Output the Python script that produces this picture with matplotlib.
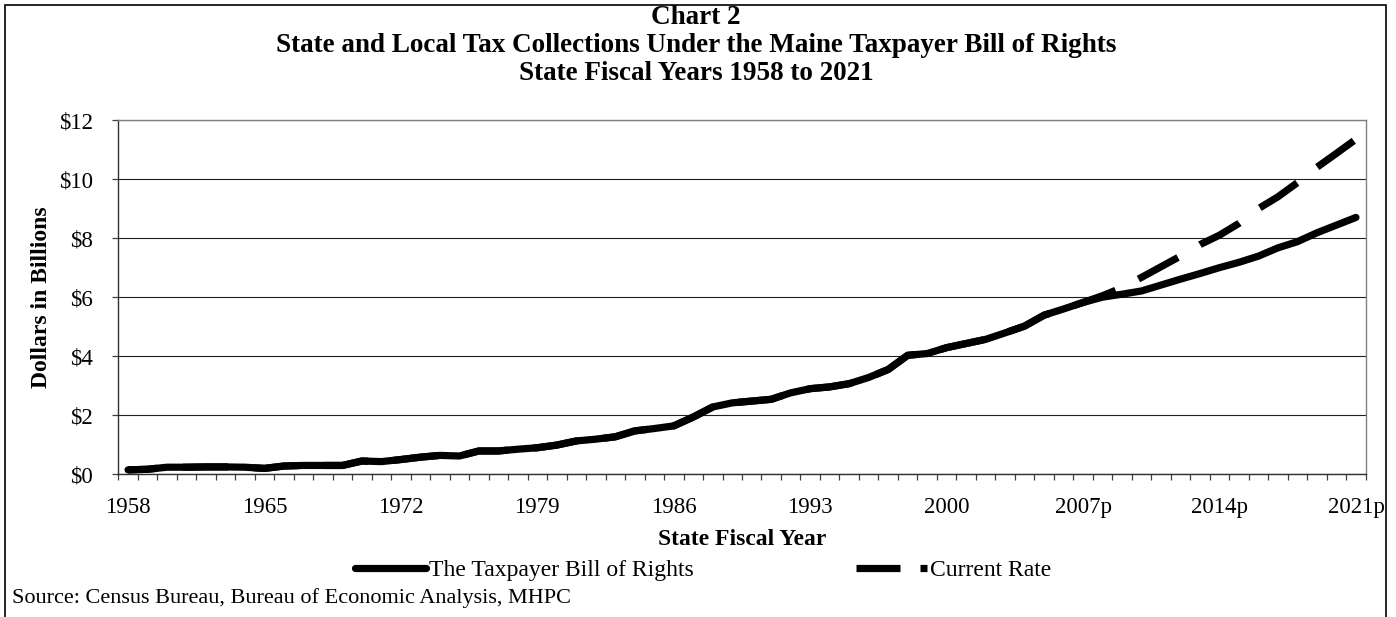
import matplotlib
matplotlib.use('Agg')
import matplotlib.pyplot as plt
import numpy as np
from matplotlib.ticker import FixedLocator, FuncFormatter
from matplotlib.lines import Line2D
from matplotlib.patches import Rectangle

# ---------------- data ----------------
years = list(range(1958, 2022))
tabor = [0.15, 0.17, 0.24, 0.24, 0.25, 0.25, 0.24, 0.20, 0.28, 0.30,
         0.30, 0.30, 0.45, 0.43, 0.50, 0.58, 0.64, 0.62, 0.79, 0.79,
         0.85, 0.90, 0.99, 1.13, 1.19, 1.27, 1.47, 1.55, 1.64, 1.94,
         2.28, 2.42, 2.48, 2.54, 2.76, 2.90, 2.96, 3.07, 3.28, 3.55,
         4.03, 4.09, 4.29, 4.43, 4.57, 4.79, 5.02, 5.39, 5.60, 5.82,
         6.00, 6.10, 6.21, 6.41, 6.61, 6.80, 7.00, 7.18, 7.39, 7.67,
         7.88, 8.18, 8.44, 8.70]
current = [0.15, 0.17, 0.24, 0.24, 0.25, 0.25, 0.24, 0.20, 0.28, 0.30,
           0.30, 0.30, 0.45, 0.43, 0.50, 0.58, 0.64, 0.62, 0.79, 0.79,
           0.85, 0.90, 0.99, 1.13, 1.19, 1.27, 1.47, 1.55, 1.64, 1.94,
           2.28, 2.42, 2.48, 2.54, 2.76, 2.90, 2.96, 3.07, 3.28, 3.55,
           4.03, 4.09, 4.29, 4.43, 4.57, 4.79, 5.02, 5.39, 5.60, 5.82,
           6.05, 6.32, 6.67, 7.03, 7.39, 7.78, 8.10, 8.50, 9.00, 9.40,
           9.88, 10.40, 10.87, 11.35]
series_names = ['The Taxpayer Bill of Rights', 'Current Rate']
x_label_years = ['1958', '1965', '1972', '1979', '1986', '1993', '2000',
                 '2007p', '2014p', '2021p']
y_ticks = [0, 2, 4, 6, 8, 10, 12]
title_lines = ['Chart 2',
               'State and Local Tax Collections Under the Maine Taxpayer Bill of Rights',
               'State Fiscal Years 1958 to 2021']
source_text = 'Source: Census Bureau, Bureau of Economic Analysis, MHPC'

# ---------------- style ----------------
plt.rcParams['font.family'] = ['Liberation Serif', 'DejaVu Serif']
plt.rcParams['lines.scale_dashes'] = False

W, H = 1396, 617
fig = plt.figure(figsize=(W / 100, H / 100), dpi=100)

ax_l, ax_r, ax_t, ax_b = 118.3, 1365.7, 120.0, 474.3
ax = fig.add_axes([ax_l / W, 1 - ax_b / H, (ax_r - ax_l) / W, (ax_b - ax_t) / H])

x = np.arange(len(years))
LW = 5.2
PX = 0.72                     # points per pixel at 100 dpi
ON, OFF = 45 * PX, 25.5 * PX  # dash pattern in points

ax.set_xlim(-0.5, len(years) - 0.5)
ax.set_ylim(0, 12)

# align the dash phase so that a dash starts where the series diverge
pts = ax.transData.transform(np.column_stack([x, current]))
seg = np.hypot(np.diff(pts[:, 0]), np.diff(pts[:, 1]))
cum = np.concatenate([[0], np.cumsum(seg)])
div_x = 48.5
k = int(div_x)
frac = div_x - k
L_start = (cum[k] + frac * seg[k]) * PX
offset = (-L_start) % (ON + OFF)

ax.plot(x, tabor, color='black', lw=LW, solid_capstyle='round',
        solid_joinstyle='round', zorder=3)
ax.plot(x, current, color='black', lw=LW, linestyle=(offset, (ON, OFF)),
        dash_capstyle='butt', zorder=4)

# x ticks: labels every 7 years, tick marks between categories
label_pos = [years.index(int(s.rstrip('p'))) for s in x_label_years]
ax.xaxis.set_major_locator(FixedLocator(label_pos))
ax.set_xticklabels(x_label_years)
ax.xaxis.set_minor_locator(FixedLocator(np.arange(-0.5, len(years), 1.0)))
ax.tick_params(axis='x', which='major', length=0, pad=16, labelsize=16.5)
ax.tick_params(axis='x', which='minor', length=4.5, width=0.9,
               color='#404040', direction='out')

ax.yaxis.set_major_locator(FixedLocator(y_ticks))
ax.yaxis.set_major_formatter(FuncFormatter(lambda v, p: f'${int(v)}'))
ax.tick_params(axis='y', which='major', length=4.5, width=0.9,
               color='#404040', direction='out', pad=14, labelsize=16.5)

ax.grid(axis='y', color='#202020', lw=0.8, zorder=1)
ax.set_axisbelow(True)
for side in ['top', 'right']:
    ax.spines[side].set_color('#808080')
    ax.spines[side].set_linewidth(1.0)
for side in ['left', 'bottom']:
    ax.spines[side].set_color('#303030')
    ax.spines[side].set_linewidth(1.0)

ax.set_xlabel('State Fiscal Year', fontsize=17, fontweight='bold', labelpad=8)
ax.set_ylabel('Dollars in Billions', fontsize=17, fontweight='bold', labelpad=5)

# titles
for t, yy in zip(title_lines, [17, 45, 73]):
    fig.text(696 / W, 1 - yy / H, t, ha='center', va='center',
             fontsize=19.5, fontweight='bold')

# legend
h1 = Line2D([], [], color='black', lw=LW, solid_capstyle='round')
h2 = Line2D([], [], color='black', lw=LW, linestyle=(0, (44 * PX, 20 * PX)),
            dash_capstyle='butt')
fig.legend([h1, h2], series_names, loc='center',
           bbox_to_anchor=(703 / W, 1 - 570 / H), ncol=2, frameon=False,
           fontsize=17, handlelength=3.0, handletextpad=0.12,
           columnspacing=6.9, borderpad=0, borderaxespad=0)

fig.text(12 / W, 1 - 598 / H, source_text, ha='left', va='center', fontsize=16)

# outer border
fig.add_artist(Rectangle((4.5 / W, -0.05), (1386 - 4.5) / W, 1.05 - 4.5 / H,
                         transform=fig.transFigure, fill=False,
                         edgecolor='black', lw=1.2))

fig.savefig('out.png', dpi=100)
